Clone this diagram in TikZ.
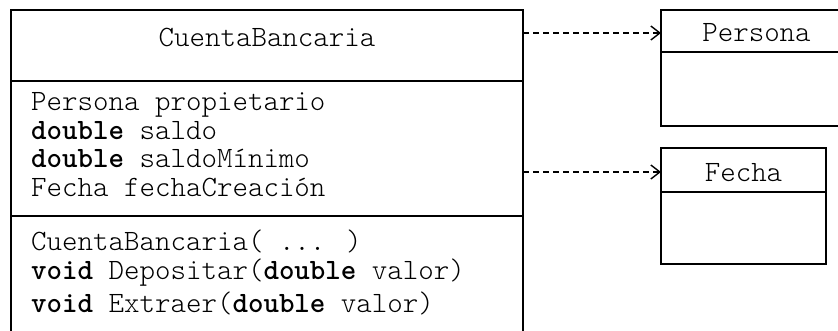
\documentclass[tikz,border=0pt]{standalone}
\usetikzlibrary{arrows.meta}
\tikzset{
  boxline/.style={line width=1.6pt, line cap=rect},
  txt/.style={inner sep=0pt, anchor=base west, font=\ttfamily\fontseries{l}\fontsize{29.5}{30}\selectfont},
  ctxt/.style={inner sep=0pt, anchor=base, font=\ttfamily\fontseries{l}\fontsize{29.5}{30}\selectfont},
  dep/.style={line width=1.4pt, dash pattern=on 6pt off 4pt, -{Straight Barb[length=9pt,width=14pt,line width=1.4pt]}}
}
\newcommand{\kw}[1]{{\fontseries{b}\selectfont #1}}
\begin{document}
\begin{tikzpicture}[x=1pt,y=-1pt]
\useasboundingbox (0,0) rectangle (838,331);
\clip (0,0) rectangle (838,331);
% main class
\draw[boxline] (11,345) -- (11,10) -- (523,10) -- (523,345);
\draw[boxline] (11,81) -- (523,81);
\draw[boxline] (11,216) -- (523,216);
\coordinate (mR1) at (523,33);
\coordinate (mR2) at (523,172);
\node[ctxt] (mt) at (267,46.5) {CuentaBancaria};
\node[txt] (a1) at (31,111) {Persona propietario};
\node[txt] (a2) at (31,139.5) {\kw{double} saldo};
\node[txt] (a3) at (31,167.5) {\kw{double} saldoMínimo};
\node[txt] (a4) at (31,197) {Fecha fechaCreación};
\node[txt] (m1) at (31,251) {CuentaBancaria( ... )};
\node[txt] (m2) at (31,279.5) {\kw{void} Depositar(\kw{double} valor)};
\node[txt] (m3) at (31,312.5) {\kw{void} Extraer(\kw{double} valor)};
% Persona
\draw[boxline] (860,10) -- (661,10) -- (661,126) -- (860,126);
\draw[boxline] (661,52) -- (860,52);
\coordinate (pL) at (661,33);
\node[ctxt] (pt) at (756.5,41.7) {Persona};
% Fecha
\draw[boxline] (661,148) rectangle (826,264);
\draw[boxline] (661,192) -- (826,192);
\coordinate (fL) at (661,172);
\node[ctxt] (ft) at (743.5,181.7) {Fecha};
% dependencies
\draw[dep] (mR1) -- (pL);
\draw[dep] (mR2) -- (fL);
\end{tikzpicture}
\end{document}
